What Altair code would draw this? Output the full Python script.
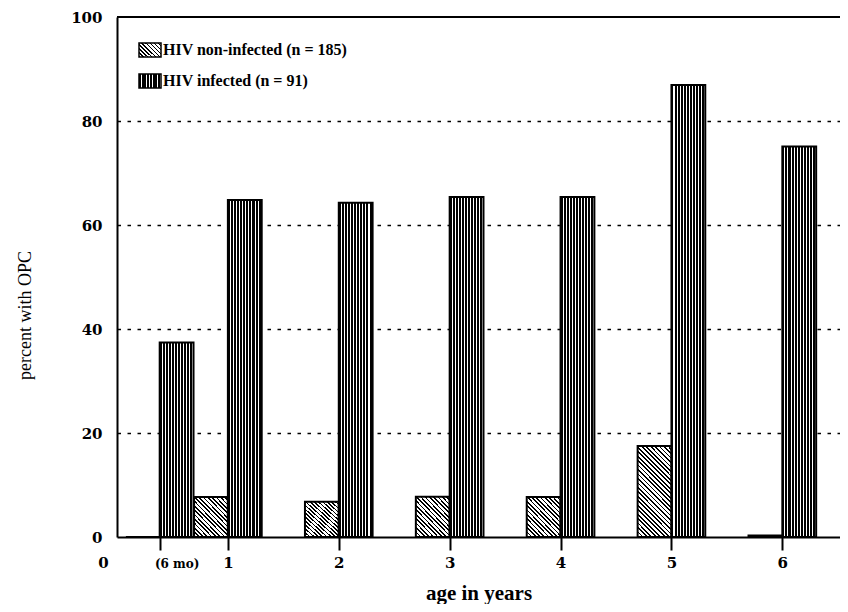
import altair as alt
import pandas as pd

# ---------------- data ----------------
AGE_POS = [0.385, 1, 2, 3, 4, 5, 6]          # group positions on the age axis (years)
AGE_LABELS = ["(6 mo)", "1", "2", "3", "4", "5", "6"]
NON_INFECTED = [0.0, 7.7, 6.8, 7.75, 7.7, 17.5, 0.3]
INFECTED = [37.4, 64.8, 64.3, 65.4, 65.4, 86.9, 75.1]
SERIES = ["HIV non-infected (n = 185)", "HIV infected (n = 91)"]
Y_TICKS = [0, 20, 40, 60, 80, 100]

rows = []
for pos, lab, a, b in zip(AGE_POS, AGE_LABELS, NON_INFECTED, INFECTED):
    rows.append({"age": pos, "label": lab, "series": SERIES[0], "value": a})
    rows.append({"age": pos, "label": lab, "series": SERIES[1], "value": b})
df = pd.DataFrame(rows)

# ---------------- styling ----------------
BAR_W = 0.305
W, H = 723, 520
SERIF = "Liberation Serif"
SERIF_WIDE = "DejaVu Serif"


def stripe_stops(n, dark_frac):
    stops = []
    for i in range(n):
        a = round(i / n, 5)
        b = round((i + dark_frac) / n, 5)
        c = round((i + 1) / n, 5)
        stops += [
            alt.GradientStop(color="black", offset=a),
            alt.GradientStop(color="black", offset=b),
            alt.GradientStop(color="white", offset=b),
            alt.GradientStop(color="white", offset=c),
        ]
    return stops


def vertical_stripes(w, spacing=3.0, dark=0.66):
    n = max(1, round(w / spacing))
    return alt.LinearGradient(gradient="linear", stops=stripe_stops(n, dark),
                              x1=0, y1=0, x2=1, y2=0)


def diagonal_hatch(w, h, spacing=4.4, dark=0.4):
    # stripes at 45 degrees ("\") for a box of w x h pixels
    a = w / (w + h)
    b = h / (w + h)
    n2 = a * a + b * b
    n = max(1, round((w + h) / spacing))
    return alt.LinearGradient(gradient="linear", stops=stripe_stops(n, dark),
                              x1=0, y1=1, x2=round(a / n2, 4), y2=round(1 - b / n2, 4))


GRAD_INF = vertical_stripes(34)
GRAD_NON_SHORT = diagonal_hatch(34, 39)
GRAD_NON_TALL = diagonal_hatch(34, 91)

x_scale = alt.Scale(domain=[0, 6.52], nice=False, zero=False)
y_scale = alt.Scale(domain=[0, 100], nice=False)

label_expr = "'0'"
for pos, lab in reversed(list(zip(AGE_POS, AGE_LABELS))):
    label_expr = f"datum.value == {pos} ? '{lab}' : {label_expr}"

x_axis = alt.Axis(
    values=[0] + AGE_POS,
    labelExpr=label_expr,
    grid=False,
    domainColor="black", domainWidth=2,
    tickColor="black", tickWidth=2, tickSize=13,
    tickOpacity={"condition": {"test": "datum.value == 0", "value": 0}, "value": 1},
    labelFont=SERIF_WIDE, labelFontWeight="bold", labelColor="black",
    labelFontSize={"condition": {"test": f"datum.value == {AGE_POS[0]}", "value": 12}, "value": 15},
    labelOffset={"condition": [{"test": "datum.value == 0", "value": -14},
                               {"test": f"datum.value == {AGE_POS[0]}", "value": 17}],
                 "value": 0},
    labelBaseline="alphabetic", labelPadding=17, labelFlush=False, labelOverlap=False,
    title="age in years", titleFont=SERIF, titleFontWeight="bold", titleFontSize=21,
    titleColor="black", titleBaseline="alphabetic", titleY=62,
)

y_axis = alt.Axis(
    values=Y_TICKS,
    grid=True, gridColor="black", gridWidth=1.4, gridDash=[3.5, 6.5],
    gridOpacity={"condition": {"test": "datum.value == 0 || datum.value == 100", "value": 0}, "value": 1},
    ticks=False, domainColor="black", domainWidth=2,
    labelFont=SERIF_WIDE, labelFontWeight="bold", labelFontSize=15, labelColor="black",
    labelPadding=15,
    title="percent with OPC", titleFont=SERIF, titleFontWeight="normal", titleFontSize=18,
    titleColor="black", titleX=-92, titleY=298, titleAlign="center", titleBaseline="middle",
)


def xy(xfield, x2field):
    return dict(
        x=alt.X(f"{xfield}:Q", scale=x_scale, axis=x_axis),
        x2=alt.X2(f"{x2field}:Q"),
        y=alt.Y("value:Q", scale=y_scale, axis=y_axis),
        y2=alt.Y2(datum=0),
    )


base = alt.Chart(df)

non_bars = (
    base.transform_filter(alt.datum.series == SERIES[0])
    .transform_calculate(x0=f"datum.age - {BAR_W}")
    .mark_rect(stroke="black", strokeWidth=2)
    .encode(
        **xy("x0", "age"),
        fill=alt.condition("datum.value > 12", alt.value(GRAD_NON_TALL), alt.value(GRAD_NON_SHORT)),
    )
)

inf_bars = (
    base.transform_filter(alt.datum.series == SERIES[1])
    .transform_calculate(x1=f"datum.age + {BAR_W}")
    .mark_rect(stroke="black", strokeWidth=2, fill=GRAD_INF)
    .encode(**xy("age", "x1"))
)

top_line = (
    alt.Chart(alt.Data(values=[{}]))
    .mark_rule(color="black", strokeWidth=2)
    .encode(y=alt.value(0))
)

# legend drawn inside the plot
LEG_X0, LEG_X1, LEG_TX = 22, 44, 46
LEG_ROWS = [(26, 40, 33), (57, 71, 64)]
leg_grads = [diagonal_hatch(22, 14, spacing=4.0), vertical_stripes(22, spacing=2.8)]
legend_layers = []
for name, (y0, y1, ty), grad in zip(SERIES, LEG_ROWS, leg_grads):
    d = alt.Data(values=[{"label": name}])
    legend_layers.append(
        alt.Chart(d).mark_rect(fill=grad, stroke="black", strokeWidth=1.5).encode(
            x=alt.value(LEG_X0), x2=alt.value(LEG_X1), y=alt.value(y0), y2=alt.value(y1)
        )
    )
    legend_layers.append(
        alt.Chart(d).mark_text(align="left", baseline="middle", font=SERIF, fontWeight="bold",
                               fontSize=16, color="black").encode(
            x=alt.value(LEG_TX), y=alt.value(ty), text="label:N"
        )
    )

chart = (
    alt.layer(non_bars, inf_bars, top_line, *legend_layers)
    .properties(
        width=W, height=H,
        autosize=alt.AutoSizeParams(type="none"),
        padding={"left": 109, "top": 9, "right": 0, "bottom": 67},
        background="white",
    )
    .configure_view(stroke=None)
)

chart.save("out.html", embed_options={"renderer": "svg", "actions": False})
